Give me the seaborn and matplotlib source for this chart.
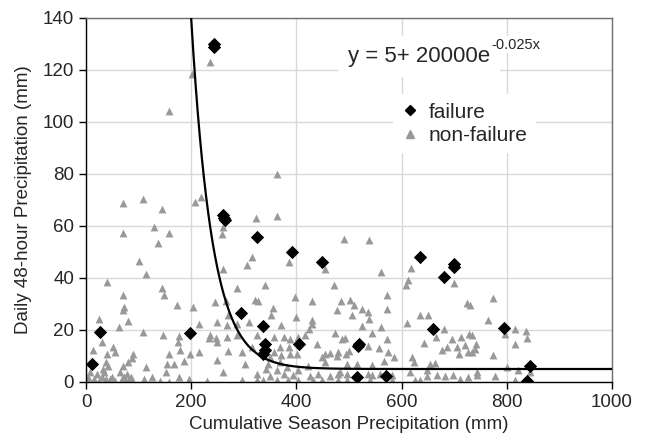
import numpy as np
import pandas as pd
import matplotlib
matplotlib.use('Agg')
import matplotlib.pyplot as plt
from matplotlib.lines import Line2D
import seaborn as sns

# non-failure events (x = cumulative season precip, y = daily 48-hour precip)
nf_x = [70, 109, 144.5, 129, 157.8, 201.5, 236.3, 206.6, 218, 260, 323, 364, 364,
        69.8, 157, 137, 100, 114, 39, 145, 148, 71, 71.6, 69.7, 173.6, 202.8, 25.3, 79,
        62.7, 109, 147, 214.8, 234, 177.4, 174, 30.4, 52, 54.5, 178.7, 198, 214.8, 12.7,
        40.5, 90, 158, 87.5, 79, 154.6, 167, 186, 114.7, 69.7, 152, 7.6, 38, 34, 158,
        177.4, 1.3, 248, 245,
        0, 3, 15, 20, 25, 30, 33, 38, 42, 45, 50, 55, 65, 68, 72, 75, 78, 82, 85, 88,
        110, 125, 140, 195, 230,
        258.6, 490.5, 316, 306.7, 385, 261, 454, 288, 340, 471.5, 397, 266, 321, 327.6,
        429, 484, 356, 351, 476.6, 270.6, 398.6, 249.6, 267.5, 286.5, 310, 370.7, 430,
        429, 424, 235.7, 267.5, 286.5, 324.5, 357.4, 376.4, 388, 403.6, 416, 474, 487,
        249.6, 270.6, 296, 315, 368.8, 386.5, 438.6, 357.4, 370, 388, 401.7, 454, 464,
        478.5, 494, 350, 448, 476.6, 248.5, 302, 346.6, 369, 422, 454, 342, 362.5,
        382.7, 403.6, 261, 324.5, 350, 376.4, 394, 426, 441.6, 464, 479.6, 296, 324.5,
        337, 362.5, 384.6, 403.6, 432, 448, 479.6, 495.6,
        537.4, 560, 618, 612, 608, 700, 571.6, 571.6, 725, 502, 509.5, 505.7, 524,
        536.7, 538.6, 524.7, 560, 544, 492, 635, 651, 609.7, 681, 665.4, 642.6, 571.6,
        556.5, 536.7, 500, 573.6, 586, 695, 712, 728.8, 685.7, 704.7, 720.5, 677.4,
        709, 726.8, 619.8, 623.6, 566.5, 543, 496.8, 514.6, 654, 663.5, 483, 496.8,
        535.5, 559, 581, 616, 647.7, 625.5, 635, 647.7, 666.7, 682.5, 698.3, 711,
        726.8, 742.7, 540, 581, 543,
        774, 730, 765, 815.6, 836, 838, 796.6, 815.6, 741.4, 739.5, 733, 733, 774, 800,
        822, 845, 742.7, 777.6, 815.6, 846]
nf_y = [68.9, 70.3, 66.7, 59.7, 104.2, 118.4, 123, 69.4, 71.2, 59.7, 62.9, 80, 63.7,
        57.4, 57.4, 53.5, 46.7, 41.7, 38.4, 36.3, 33.5, 33.4, 28.9, 27.6, 29.5, 28.9, 24.1,
        23.4, 21.2, 19.2, 18.2, 22.5, 17.1, 17.6, 15.4, 15.4, 13.5, 11.5, 12.5, 10.9,
        11.5, 12.2, 10.9, 10.7, 10.7, 9.4, 7.7, 7.1, 7.1, 8, 5.8, 6.2, 3.8, 3.8, 7.7,
        3.8, 0, 1.9, 0.7, 17.1, 30.8,
        0.5, 2, 1, 3, 0.5, 2, 5, 1, 6, 1, 2, 0.5, 4, 1, 2, 0.5, 3, 1, 2, 0.5,
        1, 2, 0.5, 1, 0.5,
        57.1, 54.9, 48.1, 44.9, 46.2, 43.3, 43.3, 36.2, 37.2, 37.2, 32.7, 31, 31.4, 31,
        31, 31, 28.6, 25.7, 27.6, 25.7, 25, 23.1, 21.8, 22.5, 23.1, 21.8, 23.7,
        22.5, 20.5, 18, 17.3, 18, 18, 17.3, 17.3, 16.7, 17.3, 18, 18.9, 16.7,
        15.4, 11.9, 11.5, 13.5, 13.5, 13.5, 14.5, 11.5, 10.3, 10.9, 10.7, 10.9, 11.2,
        11.5, 10.7, 9.6, 9.6, 9.9, 8.4, 7.1, 7.1, 7.7, 6, 7.7, 5.1, 4.5,
        5.8, 4.5, 3.8, 3.2, 2.2, 3, 2.6, 2.2, 3, 2.2, 3.2, 0.7, 0.7,
        0.9, 0.7, 0.7, 0.7, 0.7, 0.7, 0.7, 0.9,
        54.5, 42.3, 44, 39.4, 37.2, 38.1, 33.6, 28, 30.2, 31.4, 29.5, 25.7, 28,
        27, 24.4, 21.6, 21.2, 18.9, 17.1, 25.7, 25.7, 22.7, 20.5, 17.3, 15, 16.7,
        13.2, 13.9, 11.9, 11.5, 9.6, 16.7, 17.3, 18.6, 13.5, 13.5, 14.1, 12.2,
        10.9, 11.5, 9.6, 7.7, 8.1, 6.4, 7.1, 6.8, 7.1, 7.3, 3.8, 3.2,
        3.2, 3.2, 2.6, 3.8, 4.5, 0.7, 0.7, 2.2, 2.6, 2.2, 2.6, 1.3,
        1.9, 2.6, 0.7, 0.7, 2.6,
        32.5, 29.5, 23.7, 20.2, 19.5, 17.1, 18.6, 14.8, 14.5, 12.8, 18, 11.5, 10.3, 5.8,
        4.5, 3.8, 3.8, 2.3, 0.7, 0]

# failure events
f_x = [12, 26.6, 197.7, 244, 243, 260, 262, 264, 294, 326, 337, 336, 340, 340, 392,
       405.5, 448, 516, 519.6, 518, 570, 635, 660, 680.6, 700, 700, 794.7, 838, 844]
f_y = [7.1, 19.2, 19, 129.9, 129, 64.2, 63, 62.2, 26.6, 55.7, 21.7, 10.7, 12.5, 14.5, 50,
       14.5, 46, 1.9, 14.8, 13.8, 2.3, 48.1, 20.4, 40.4, 45.2, 44.3, 20.8, 0.3, 6.2]

# fitted threshold curve y = 5 + 20000 exp(-0.025 x)
fit_a, fit_b, fit_k = 5, 20000, 0.025

sns.set_style('white')
plt.rcParams['font.family'] = ['Liberation Sans', 'DejaVu Sans']

nonfail = pd.DataFrame({'x': nf_x, 'y': nf_y})
fail = pd.DataFrame({'x': f_x, 'y': f_y})
cx = np.linspace(190, 1000, 400)
curve = pd.DataFrame({'x': cx, 'y': fit_a + fit_b * np.exp(-fit_k * cx)})

fig = plt.figure(figsize=(6.48, 4.46), dpi=100)
ax = fig.add_axes([86 / 648, 1 - 382 / 446, 526 / 648, 364 / 446])

ax.grid(True, color='#d9d9d9', linewidth=1)
ax.set_axisbelow(True)

sns.scatterplot(data=nonfail, x='x', y='y', ax=ax, marker='^', s=32,
                color='#999999', linewidth=0, zorder=2, legend=False)
sns.lineplot(data=curve, x='x', y='y', ax=ax, color='black', linewidth=1.6,
             zorder=3, legend=False)
sns.scatterplot(data=fail, x='x', y='y', ax=ax, marker='D', s=46,
                color='black', linewidth=0, zorder=4, legend=False)

ax.set_xlim(0, 1000)
ax.set_ylim(0, 140)
ax.set_xticks(range(0, 1001, 200))
ax.set_yticks(range(0, 141, 20))
ax.tick_params(axis='both', labelsize=13.5, length=5, width=1, color='black',
               direction='out', bottom=True, left=True)
for side in ['left', 'bottom']:
    ax.spines[side].set_color('black')
    ax.spines[side].set_linewidth(1)
for side in ['top', 'right']:
    ax.spines[side].set_color('#707070')
    ax.spines[side].set_linewidth(1)

ax.set_xlabel('Cumulative Season Precipitation (mm)', fontsize=13.5, labelpad=4)
ax.set_ylabel('Daily 48-hour Precipitation (mm)', fontsize=13.5, labelpad=8)

# equation with superscript exponent, on a white patch over the grid
eq = fig.text(348 / 648, 1 - 62 / 446, 'y = 5+ 20000e', fontsize=16, va='baseline',
              ha='left', bbox=dict(facecolor='white', edgecolor='none', pad=7), zorder=5)
fig.canvas.draw()
bb = eq.get_window_extent()
fig.text((bb.x1 + 1) / 648, (bb.y0 + 0.72 * bb.height) / 446, '-0.025x', fontsize=10.5,
         va='bottom', ha='left', zorder=6,
         bbox=dict(facecolor='white', edgecolor='none', pad=1))

handles = [Line2D([], [], marker='D', color='black', linestyle='none', markersize=5.5),
           Line2D([], [], marker='^', color='#999999', linestyle='none', markersize=6)]
leg = ax.legend(handles, ['failure', 'non-failure'], loc='upper left',
                bbox_to_anchor=(383 / 648, 1 - 84 / 446),
                bbox_transform=fig.transFigure, fontsize=15, frameon=True,
                handlelength=0.8, handletextpad=0.5, labelspacing=0.2,
                borderpad=0.4, fancybox=False)
leg.get_frame().set_edgecolor('none')
leg.get_frame().set_facecolor('white')
leg.get_frame().set_alpha(1)

fig.savefig('out.png', dpi=100)
